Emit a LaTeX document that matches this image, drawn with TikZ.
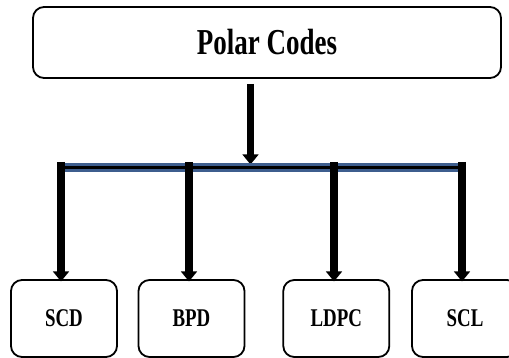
\documentclass[tikz,border=0pt]{standalone}
\usepackage{fontspec}
\setmainfont{Liberation Serif}
\usetikzlibrary{arrows.meta}
\definecolor{barblue}{HTML}{3E5E8E}
\tikzset{
  box/.style={draw=black, line width=1.8pt, rounded corners=11pt, fill=white, inner sep=0pt, outer sep=0pt},
  topbox/.style={box, minimum width=468pt, minimum height=71pt},
  leafbox/.style={box, minimum width=106pt, minimum height=77pt},
  bigarrow/.style={line width=7.5pt, -{Triangle[width=15.6pt,length=10pt]}, shorten >=-1.5pt},
}
\newcommand{\bigtxt}[1]{\scalebox{0.74}[1]{\fontsize{36.5}{40}\selectfont\bfseries #1}}
\newcommand{\smtxt}[1]{\scalebox{0.74}[1]{\fontsize{25.5}{28}\selectfont\bfseries #1}}
\begin{document}
\begin{tikzpicture}[x=1pt,y=-1pt]
\useasboundingbox (0,0) rectangle (509,358);
\begin{scope}
\clip (0,0) rectangle (509,358);
\node[topbox] (top) at (267,42.5) {\bigtxt{Polar Codes}};
\node[leafbox] (scd) at (64,318.5) {\smtxt{SCD}};
\node[leafbox] (bpd) at (191.5,318.5) {\smtxt{BPD}};
\node[leafbox] (ldpc) at (336.3,318.5) {\smtxt{LDPC}};
\node[leafbox] (scl) at (465,318.5) {\smtxt{SCL}};

\coordinate (tb) at (250.5,163);
\coordinate (b1) at (61,162);
\coordinate (b2) at (189,162);
\coordinate (b3) at (334,162);
\coordinate (b4) at (462,162);
\coordinate (l) at (61,167.3);
\coordinate (r) at (462,167.3);

\draw[bigarrow] ([yshift=-6pt]top.south -| tb) -- (tb);
\draw[barblue, line width=8.5pt] (l) -- (r);
\draw[black, line width=2.7pt] (l) -- (r);
\draw[bigarrow] (b1) -- (b1 |- scd.north);
\draw[bigarrow] (b2) -- (b2 |- bpd.north);
\draw[bigarrow] (b3) -- (b3 |- ldpc.north);
\draw[bigarrow] (b4) -- (b4 |- scl.north);
\end{scope}
\end{tikzpicture}
\end{document}
